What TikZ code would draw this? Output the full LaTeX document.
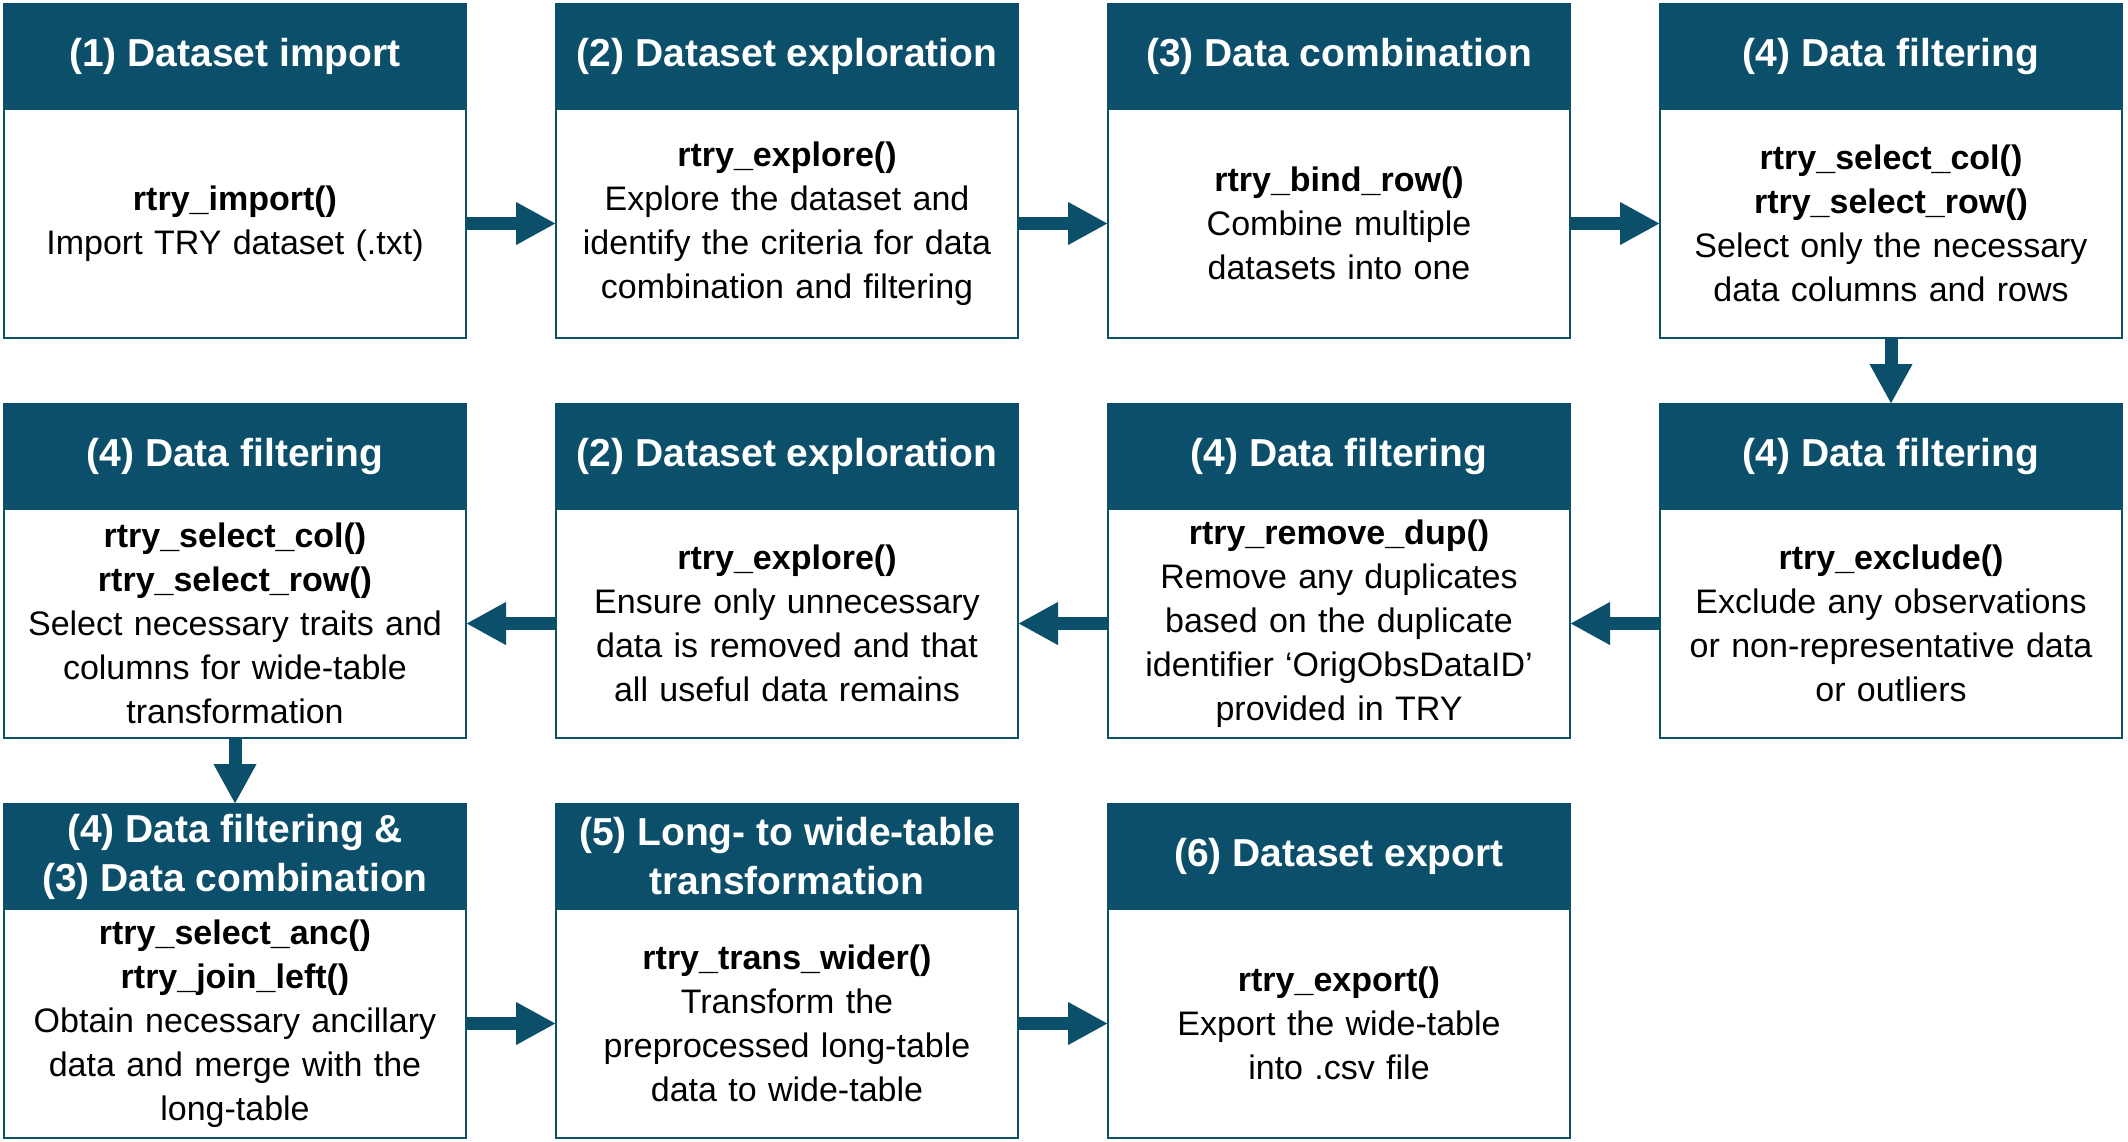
\documentclass[tikz,border=0pt]{standalone}
\usepackage{fontspec}
\setmainfont{Liberation Sans}
\usepackage{tikz}
\usetikzlibrary{arrows.meta,positioning}
\definecolor{stepblue}{HTML}{0B4F6B}
\begin{document}
\begin{tikzpicture}
  [
  head/.style={rectangle,draw=stepblue,fill=stepblue,line width=1.2pt,text=white,
    font=\fontsize{19.5}{24.5}\selectfont\bfseries,align=center,
    minimum width=231pt,minimum height=52.5pt,inner sep=2pt,outer sep=0pt},
  body/.style={rectangle,draw=stepblue,fill=white,line width=1.2pt,
    font=\fontsize{17}{22}\selectfont,align=center,text width=223pt,
    minimum width=231pt,minimum height=114.5pt,inner sep=4pt,outer sep=0pt},
  flow/.style={-{Triangle[length=20pt,width=20pt]},line width=6.5pt,draw=stepblue},
  node distance=45pt
  ]
  \path[use as bounding box] (0,0) rectangle (1064pt,-570.5pt);
  % first row
  \node[head,anchor=north west] (import) at (2pt,-2pt) {(1) Dataset import};
  \node[body] (import text) [below=0pt of import]
    {\textbf{rtry\_import()}\\Import TRY dataset (.txt)};
  \node[head] (explore) [right=of import] {(2) Dataset exploration};
  \node[body] (explore text) [below=0pt of explore]
    {\textbf{rtry\_explore()}\\Explore the dataset and\\identify the criteria for data\\combination and filtering};
  \node[head] (combine) [right=of explore] {(3) Data combination};
  \node[body] (combine text) [below=0pt of combine]
    {\textbf{rtry\_bind\_row()}\\Combine multiple\\datasets into one};
  \node[head] (select) [right=of combine] {(4) Data filtering};
  \node[body] (select text) [below=0pt of select]
    {\textbf{rtry\_select\_col()}\\\textbf{rtry\_select\_row()}\\Select only the necessary\\data columns and rows};
  % second row, right to left
  \node[head] (exclude) [below=33pt of select text] {(4) Data filtering};
  \node[body] (exclude text) [below=0pt of exclude]
    {\textbf{rtry\_exclude()}\\Exclude any observations\\or non-representative data\\or outliers};
  \node[head] (dedup) [left=of exclude] {(4) Data filtering};
  \node[body] (dedup text) [below=0pt of dedup]
    {\textbf{rtry\_remove\_dup()}\\Remove any duplicates\\based on the duplicate\\identifier ‘OrigObsDataID’\\provided in TRY};
  \node[head] (check) [left=of dedup] {(2) Dataset exploration};
  \node[body] (check text) [below=0pt of check]
    {\textbf{rtry\_explore()}\\Ensure only unnecessary\\data is removed and that\\all useful data remains};
  \node[head] (traits) [left=of check] {(4) Data filtering};
  \node[body] (traits text) [below=0pt of traits]
    {\textbf{rtry\_select\_col()}\\\textbf{rtry\_select\_row()}\\Select necessary traits and\\columns for wide-table\\transformation};
  % third row
  \node[head] (ancillary) [below=33pt of traits text] {(4) Data filtering \&\\(3) Data combination};
  \node[body] (ancillary text) [below=0pt of ancillary]
    {\textbf{rtry\_select\_anc()}\\\textbf{rtry\_join\_left()}\\Obtain necessary ancillary\\data and merge with the\\long-table};
  \node[head] (widen) [right=of ancillary] {(5) Long- to wide-table\\transformation};
  \node[body] (widen text) [below=0pt of widen]
    {\textbf{rtry\_trans\_wider()}\\Transform the\\preprocessed long-table\\data to wide-table};
  \node[head] (export) [right=of widen] {(6) Dataset export};
  \node[body] (export text) [below=0pt of export]
    {\textbf{rtry\_export()}\\Export the wide-table\\into .csv file};
  % arrows
  \draw[flow] (import text) -- (explore text);
  \draw[flow] (explore text) -- (combine text);
  \draw[flow] (combine text) -- (select text);
  \draw[flow] (select text) -- (exclude);
  \draw[flow] (exclude text) -- (dedup text);
  \draw[flow] (dedup text) -- (check text);
  \draw[flow] (check text) -- (traits text);
  \draw[flow] (traits text) -- (ancillary);
  \draw[flow] (ancillary text) -- (widen text);
  \draw[flow] (widen text) -- (export text);
\end{tikzpicture}
\end{document}
